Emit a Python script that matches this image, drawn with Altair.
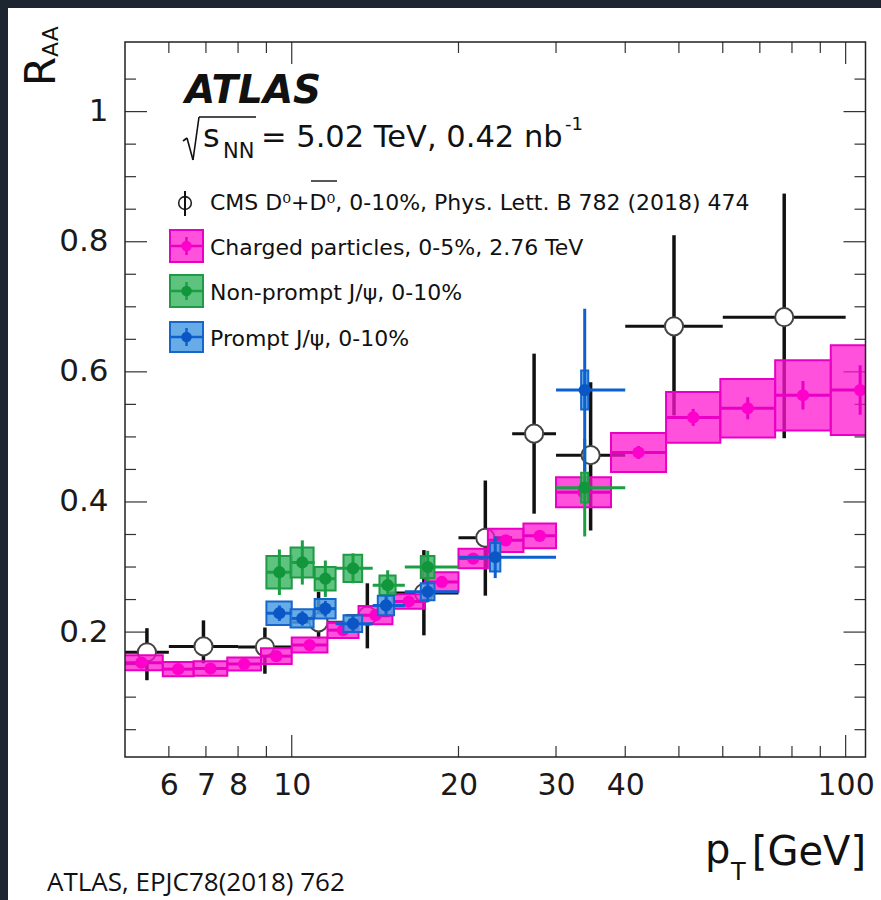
import altair as alt
import pandas as pd
import numpy as np

# ---------------- data ----------------
# Charged particles, 0-5%, 2.76 TeV
ch_lo = [4.9, 5.85, 6.65, 7.65, 8.8, 10.0, 11.6, 13.2, 15.2, 17.4, 20.0, 22.6, 26.2, 30.0, 37.7, 47.4, 59.4, 74.6, 94.0]
ch_hi = [5.85, 6.65, 7.65, 8.8, 10.0, 11.6, 13.2, 15.2, 17.4, 20.0, 22.6, 26.2, 30.0, 37.7, 47.4, 59.4, 74.6, 94.0, 120.0]
ch_val = [0.153, 0.143, 0.144, 0.151, 0.163, 0.180, 0.203, 0.226, 0.247, 0.277, 0.313, 0.341, 0.348, 0.415, 0.476, 0.530, 0.544, 0.564, 0.572]
ch_sys = [0.0115, 0.011, 0.011, 0.010, 0.012, 0.0115, 0.012, 0.014, 0.011, 0.015, 0.015, 0.018, 0.019, 0.023, 0.030, 0.039, 0.045, 0.054, 0.069]
ch_stat = [0.002, 0.002, 0.002, 0.002, 0.002, 0.002, 0.003, 0.003, 0.004, 0.005, 0.005, 0.006, 0.007, 0.008, 0.010, 0.013, 0.017, 0.022, 0.038]

# CMS D0 + D0bar, 0-10%
cms_lo = [5, 6, 8, 10, 12.5, 15, 20, 25, 30, 40, 60]
cms_hi = [6, 8, 10, 12.5, 15, 20, 25, 30, 40, 60, 100]
cms_val = [0.169, 0.178, 0.177, 0.215, 0.225, 0.260, 0.345, 0.505, 0.472, 0.670, 0.684]
cms_eup = [0.037, 0.040, 0.030, 0.047, 0.050, 0.066, 0.088, 0.123, 0.112, 0.140, 0.190]
cms_edn = [0.043, 0.026, 0.041, 0.025, 0.050, 0.065, 0.089, 0.123, 0.116, 0.137, 0.186]

# Non-prompt J/psi, 0-10%
np_x = [9.5, 10.45, 11.5, 12.9, 14.9, 17.6, 33.8]
np_lo = [9, 10, 11, 12, 14, 16, 30]
np_hi = [10, 11, 12, 14, 16, 20, 40]
np_val = [0.292, 0.307, 0.282, 0.298, 0.272, 0.300, 0.422]
np_sys = [0.025, 0.023, 0.018, 0.021, 0.015, 0.017, 0.023]
np_stat = [0.035, 0.034, 0.028, 0.023, 0.023, 0.025, 0.075]

# Prompt J/psi, 0-10%
p_x = [9.5, 10.45, 11.5, 12.9, 14.8, 17.6, 23.3, 33.8]
p_lo = [9, 10, 11, 12, 14, 16, 20, 30]
p_hi = [10, 11, 12, 14, 16, 20, 30, 40]
p_val = [0.229, 0.221, 0.236, 0.213, 0.241, 0.262, 0.315, 0.572]
p_sys = [0.018, 0.014, 0.015, 0.013, 0.015, 0.013, 0.022, 0.030]
p_stat = [0.012, 0.011, 0.012, 0.012, 0.014, 0.016, 0.032, 0.125]

# axis ticks / labels
x_labels = [6, 7, 8, 10, 20, 30, 40, 100]
x_major = [10, 100]
x_minor = [6, 7, 8, 9, 20, 30, 40, 50, 60, 70, 80, 90]
y_major = [0.2, 0.4, 0.6, 0.8, 1.0]
y_minor = [0.05, 0.1, 0.15, 0.25, 0.3, 0.35, 0.45, 0.5, 0.55, 0.65, 0.7, 0.75, 0.85, 0.9, 0.95, 1.05]

legend_labels = [
    "CMS D\u2070+D\u2070, 0-10%, Phys. Lett. B 782 (2018) 474",
    "Charged particles, 0-5%, 2.76 TeV",
    "Non-prompt J/\u03c8, 0-10%",
    "Prompt J/\u03c8, 0-10%",
]
header_texts = ["ATLAS", "s", "NN", "= 5.02 TeV, 0.42 nb", "-1"]
axis_texts = ["R", "AA", "p", "T", "[GeV]"]
footer_text = "ATLAS, EPJC78(2018) 762"

# ---------------- tables ----------------
ch = pd.DataFrame({"lo": ch_lo, "hi": ch_hi, "v": ch_val, "s": ch_sys, "st": ch_stat})
ch["xc"] = np.sqrt(ch.lo * ch.hi)
ch["b0"], ch["b1"] = ch.v - ch.s, ch.v + ch.s
ch["e0"], ch["e1"] = ch.v - ch.st, ch.v + ch.st

cms = pd.DataFrame({"lo": cms_lo, "hi": cms_hi, "v": cms_val})
cms["xc"] = np.sqrt(cms.lo * cms.hi)
cms["e0"] = cms.v - np.array(cms_edn)
cms["e1"] = cms.v + np.array(cms_eup)

def jpsi(xs_, lo, hi, v, s, st):
    d = pd.DataFrame({"xc": xs_, "lo": lo, "hi": hi, "v": v, "s": s, "st": st})
    d["bx0"], d["bx1"] = d.xc - 0.5, d.xc + 0.5
    d["b0"], d["b1"] = d.v - d.s, d.v + d.s
    d["e0"], d["e1"] = d.v - d.st, d.v + d.st
    return d

npj = jpsi(np_x, np_lo, np_hi, np_val, np_sys, np_stat)
pj = jpsi(p_x, p_lo, p_hi, p_val, p_sys, p_stat)

# ---------------- scales / axes ----------------
W, H = 740.5, 715
XS = alt.Scale(type="log", domain=[5.0, 108.6], nice=False)
YS = alt.Scale(domain=[0.008, 1.107], nice=False, zero=False)
XA = alt.Axis(values=x_labels, format="d", ticks=False, domain=False, grid=False,
              labelFont="DejaVu Sans", labelFontSize=30, labelColor="#1a1a1a",
              labelPadding=13, labelFlush=False, labelOverlap=False, zindex=1, title=None)
YA = alt.Axis(values=y_major, labelExpr="datum.value == 1 ? '1' : format(datum.value, '.1f')",
              ticks=False, domain=False, grid=False, labelFont="DejaVu Sans", labelFontSize=31,
              labelColor="#1a1a1a", labelPadding=17, labelOverlap=False, zindex=1, title=None)

def X(f): return alt.X(f, type="quantitative", scale=XS, axis=XA)
def Y(f): return alt.Y(f, type="quantitative", scale=YS, axis=YA)

def one():
    return alt.Chart(pd.DataFrame({"k": [0]}))

def seg(x1, y1, x2, y2, w=1.5, color="#111"):
    return one().mark_rule(strokeWidth=w, color=color).encode(
        x=alt.value(x1), y=alt.value(y1), x2=alt.value(x2), y2=alt.value(y2))

def box(x1, y1, x2, y2, fill, stroke, op=1.0, sw=2):
    return one().mark_rect(fill=fill, stroke=stroke, strokeWidth=sw, fillOpacity=op).encode(
        x=alt.value(x1), y=alt.value(y1), x2=alt.value(x2), y2=alt.value(y2))

def dot(x, y, size, fill, stroke=None, sw=0):
    kw = dict(shape="circle", filled=True, fill=fill, opacity=1, size=size, strokeWidth=sw)
    if stroke:
        kw["stroke"] = stroke
    return one().mark_point(**kw).encode(x=alt.value(x), y=alt.value(y))

def txt(s, x, y, size, font="DejaVu Sans", align="left", **kw):
    return alt.Chart(pd.DataFrame({"t": [s]})).mark_text(
        align=align, baseline="alphabetic", font=font, fontSize=size, color="#111", **kw
    ).encode(x=alt.value(x), y=alt.value(y), text="t:N")

layers = []

# white panel on dark page
layers.append(box(-117, -34, 800, 880, "white", "white", 1, 0))

# inward ticks on all four sides
TK = "#333"
for vals, ln in ((x_minor, 11), (x_major, 22)):
    d = alt.Chart(pd.DataFrame({"v": vals}))
    layers.append(d.mark_rule(color=TK, strokeWidth=1.2).encode(x=X("v"), y=alt.value(H), y2=alt.value(H - ln)))
    layers.append(d.mark_rule(color=TK, strokeWidth=1.2).encode(x=X("v"), y=alt.value(0), y2=alt.value(ln)))
for vals, ln in ((y_minor, 11), (y_major, 22)):
    d = alt.Chart(pd.DataFrame({"v": vals}))
    layers.append(d.mark_rule(color=TK, strokeWidth=1.2).encode(y=Y("v"), x=alt.value(0), x2=alt.value(ln)))
    layers.append(d.mark_rule(color=TK, strokeWidth=1.2).encode(y=Y("v"), x=alt.value(W), x2=alt.value(W - ln)))

# CMS D0
c = alt.Chart(cms)
layers.append(c.mark_rule(color="#111", strokeWidth=3).encode(x=X("lo"), x2="hi", y=Y("v")))
layers.append(c.mark_rule(color="#111", strokeWidth=3.5).encode(x=X("xc"), y=Y("e0"), y2="e1"))
layers.append(c.mark_point(shape="circle", filled=True, fill="white", stroke="#444", strokeWidth=2,
                           size=330, opacity=1).encode(x=X("xc"), y=Y("v")))

# charged particles
MG, MGD = "#ff14d0", "#ea00c4"
c = alt.Chart(ch)
layers.append(c.mark_rect(fill=MG, fillOpacity=0.74, stroke=MGD, strokeWidth=2, clip=True).encode(
    x=X("lo"), x2="hi", y=Y("b0"), y2="b1"))
layers.append(c.mark_rule(color=MGD, strokeWidth=3, clip=True).encode(x=X("lo"), x2="hi", y=Y("v")))
layers.append(c.mark_rule(color=MGD, strokeWidth=3, clip=True).encode(x=X("xc"), y=Y("e0"), y2="e1"))
layers.append(c.mark_point(shape="circle", filled=True, color="#ff00cc", size=150, opacity=1, clip=True).encode(
    x=X("xc"), y=Y("v")))

# J/psi
def jlayers(d, fill, edge, line, mark):
    c = alt.Chart(d)
    return [
        c.mark_rect(fill=fill, fillOpacity=0.85, stroke=edge, strokeWidth=2).encode(
            x=X("bx0"), x2="bx1", y=Y("b0"), y2="b1"),
        c.mark_rule(color=line, strokeWidth=3).encode(x=X("lo"), x2="hi", y=Y("v")),
        c.mark_rule(color=line, strokeWidth=3).encode(x=X("xc"), y=Y("e0"), y2="e1"),
        c.mark_point(shape="circle", filled=True, color=mark, size=150, opacity=1).encode(x=X("xc"), y=Y("v")),
    ]

GF, GE, GL, GM = "#41b968", "#1f9a45", "#1aa043", "#12963b"
BF, BE, BL, BM = "#4e9de3", "#1766cc", "#0d60d0", "#0a56c4"
layers += jlayers(npj, GF, GE, GL, GM)
layers += jlayers(pj, BF, BE, BL, BM)

# frame
layers.append(one().mark_rect(fill=None, filled=False, stroke="#222", strokeWidth=1.5).encode(
    x=alt.value(0), x2=alt.value(W), y=alt.value(0), y2=alt.value(H)))

# ---------------- header ----------------
layers.append(txt(header_texts[0], 60, 61, 39, fontWeight="bold", fontStyle="italic"))
# radical sign
layers.append(seg(58, 99, 62, 96, 1.6))
layers.append(seg(62, 96, 68, 118, 1.6))
layers.append(seg(68, 118, 74, 75, 1.6))
layers.append(seg(74, 75, 131, 75, 1.6))
layers.append(txt(header_texts[1], 78, 105, 32))
layers.append(txt(header_texts[2], 98, 116, 21))
layers.append(txt(header_texts[3], 136, 105, 30.5))
layers.append(txt(header_texts[4], 440, 88, 18))

# ---------------- legend ----------------
# CMS entry
layers.append(dot(60, 161, 160, "white", "#222", 1.6))
layers.append(seg(60, 149, 60, 174, 2.0))
layers.append(txt(legend_labels[0], 85, 168, 22))
layers.append(seg(186, 139, 212, 139, 1.4))
# charged
layers.append(box(45, 188, 78, 220, MG, MGD, 0.74, 2))
layers.append(seg(45, 204, 78, 204, 2.5, MGD))
layers.append(seg(61.5, 195, 61.5, 213, 2.5, MGD))
layers.append(dot(61.5, 204, 110, "#ff00cc"))
layers.append(txt(legend_labels[1], 85, 213, 22))
# non-prompt
layers.append(box(45, 233, 78, 265, GF, GE, 0.85, 2))
layers.append(seg(45, 249, 78, 249, 2.5, GL))
layers.append(seg(61.5, 240, 61.5, 258, 2.5, GL))
layers.append(dot(61.5, 249, 110, GM))
layers.append(txt(legend_labels[2], 85, 258, 22))
# prompt
layers.append(box(45, 280, 78, 310, BF, BE, 0.85, 2))
layers.append(seg(45, 295, 78, 295, 2.5, BL))
layers.append(seg(61.5, 286, 61.5, 304, 2.5, BL))
layers.append(dot(61.5, 295, 110, BM))
layers.append(txt(legend_labels[3], 85, 304, 22))

# ---------------- axis titles ----------------
layers.append(txt(axis_texts[0], -70, 44, 42, angle=270))
layers.append(txt(axis_texts[1], -67, 15, 22, angle=270))
layers.append(txt(axis_texts[2], 580, 821, 40))
layers.append(txt(axis_texts[3], 606, 838, 24))
layers.append(txt(axis_texts[4], 741, 823, 40, align="right"))
layers.append(txt(footer_text, -78, 849, 26, font="Open Sans"))

chart = alt.layer(*layers).properties(
    width=W, height=H, autosize="none", background="#1c2530",
    padding={"left": 125, "top": 42, "right": 15.5, "bottom": 143},
).configure_view(strokeWidth=0)

chart.save("out.html", embed_options={"renderer": "svg", "actions": False})
